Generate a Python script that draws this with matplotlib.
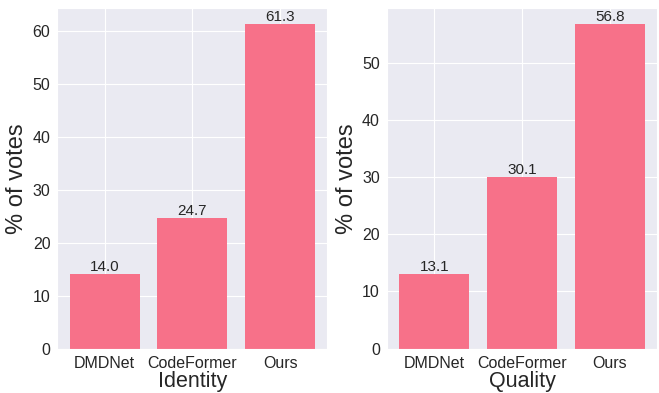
import matplotlib.pyplot as plt
import seaborn as sns

methods = ['DMDNet', 'CodeFormer', 'Ours']
identity_votes = [14.0, 24.7, 61.3]
quality_votes = [13.1, 30.1, 56.8]
panel_titles = ['Identity', 'Quality']

sns.set_style('darkgrid')
plt.rcParams['font.family'] = ['Liberation Sans', 'DejaVu Sans']
bar_color = sns.color_palette('husl', 8)[0]

fig, axes = plt.subplots(1, 2, figsize=(6.59, 3.93), dpi=100)
for ax, votes, name in zip(axes, [identity_votes, quality_votes], panel_titles):
    bars = ax.bar(methods, votes, color=bar_color, width=0.8, linewidth=0)
    ax.bar_label(bars, fmt='%.1f', fontsize=11, padding=0)
    ax.set_xlabel(name, fontsize=15.5, labelpad=0)
    ax.set_ylabel('% of votes', fontsize=17, labelpad=3)
    ax.tick_params(labelsize=11.5, pad=1.5)

plt.subplots_adjust(left=0.087, right=0.997, bottom=0.113, top=0.98, wspace=0.22)
plt.savefig('out.png', dpi=100)
